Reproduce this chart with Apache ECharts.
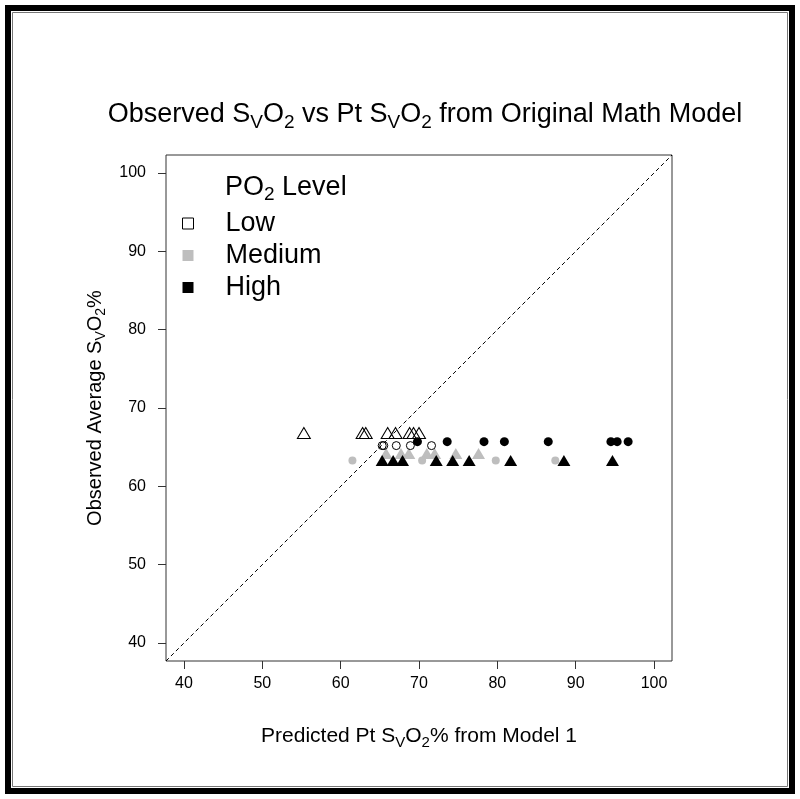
<!DOCTYPE html>
<html><head><meta charset="utf-8">
<script src="https://cdn.jsdelivr.net/npm/echarts@6/dist/echarts.min.js"></script>
<style>html,body{margin:0;padding:0;background:#fff}#c{width:800px;height:799px}</style>
</head><body><div id="c"></div>
<script>
// ---- data ----
const xTicks = [40, 50, 60, 70, 80, 90, 100];
const yTicks = [40, 50, 60, 70, 80, 90, 100];
const axisMin = 37.7, axisMax = 102.3;

const lowTriX  = [55.3, 62.8, 63.2, 66.0, 67.0, 68.8, 69.3, 70.0];
const lowTriY  = [66.8, 66.8, 66.8, 66.8, 66.8, 66.8, 66.8, 66.8];
const lowCircX = [65.3, 65.5, 67.1, 68.9, 71.6];
const lowCircY = [65.2, 65.2, 65.2, 65.2, 65.2];
const medTriX  = [65.8, 67.7, 68.7, 71.0, 72.0, 74.7, 77.6];
const medTriY  = [64.2, 64.2, 64.2, 64.2, 64.2, 64.2, 64.2];
const medCircX = [61.5, 70.4, 79.8, 87.4];
const medCircY = [63.3, 63.3, 63.3, 63.3];
const highCircX = [69.8, 73.6, 78.3, 80.9, 86.5, 94.5, 95.3, 96.7];
const highCircY = [65.7, 65.7, 65.7, 65.7, 65.7, 65.7, 65.7, 65.7];
const highTriX = [65.3, 66.7, 67.9, 72.2, 74.3, 76.4, 81.7, 88.5, 94.7];
const highTriY = [63.3, 63.3, 63.3, 63.3, 63.3, 63.3, 63.3, 63.3, 63.3];

const legendNames = ['Low', 'Medium', 'High'];
const GRAY = '#bebebe';

function pts(xs, ys) { return xs.map((x, i) => [x, ys[i]]); }

const FONT = 'Liberation Sans, Arial, sans-serif';
const chart = echarts.init(document.getElementById('c'), null, {renderer: 'canvas'});

const option = {
  backgroundColor: '#fff',
  animation: false,
  textStyle: {fontFamily: FONT},
  title: {
    left: 420, top: 93, textAlign: 'center',
    text: '{n|Observed S}{s|V}{n|O}{s|2}{n| vs Pt S}{s|V}{n|O}{s|2}{n| from Original Math Model}',
    textStyle: {
      fontWeight: 'normal',
      rich: {
        n: {fontSize: 27, color: '#000', fontFamily: FONT, fontWeight: 'normal'},
        s: {fontSize: 19, color: '#000', fontFamily: FONT, fontWeight: 'normal', padding: [15, 0, 0, 0]}
      }
    }
  },
  graphic: [
    {type: 'rect', shape: {x: 8, y: 8, width: 784, height: 783}, style: {fill: 'none', stroke: '#000', lineWidth: 6}, silent: true},
    {type: 'rect', shape: {x: 12.5, y: 12.5, width: 775, height: 774}, style: {fill: 'none', stroke: '#777', lineWidth: 1}, silent: true},
    {type: 'text', left: 225, top: 174, silent: true,
      style: {
        text: '{n|PO}{s|2}{n| Level}',
        rich: {
          n: {fontSize: 27, fill: '#000', fontFamily: FONT},
          s: {fontSize: 19, fill: '#000', fontFamily: FONT, padding: [15, 0, 0, 0]}
        }
      }
    }
  ],
  legend: {
    orient: 'vertical', left: 182, top: 210, padding: 0,
    itemWidth: 11, itemHeight: 11, itemGap: 5, selectedMode: false,
    textStyle: {fontSize: 27, color: '#000', lineHeight: 27, padding: [0, 0, 0, 27], fontFamily: FONT},
    data: [
      {name: legendNames[0], icon: 'rect', itemStyle: {color: '#fff', borderColor: '#000', borderWidth: 1, opacity: 1}},
      {name: legendNames[1], icon: 'rect', itemStyle: {color: GRAY, borderWidth: 0, opacity: 1}},
      {name: legendNames[2], icon: 'rect', itemStyle: {color: '#000', borderWidth: 0, opacity: 1}}
    ]
  },
  grid: {left: 166, right: 128, top: 155, bottom: 138, show: true, borderColor: '#333', borderWidth: 1, containLabel: false, outerBoundsMode: 'none'},
  xAxis: {
    type: 'value', min: axisMin, max: axisMax,
    axisLine: {show: false},
    splitLine: {show: false},
    axisTick: {show: true, length: 8, customValues: xTicks, lineStyle: {color: '#333'}},
    axisLabel: {customValues: xTicks, fontSize: 16, color: '#000', margin: 15, fontFamily: FONT},
    name: '{n|Predicted Pt S}{s|V}{n|O}{s|2}{n|% from Model 1}',
    nameLocation: 'middle', nameGap: 62,
    nameTextStyle: {rich: {
      n: {fontSize: 21, color: '#000', fontFamily: FONT},
      s: {fontSize: 15, color: '#000', fontFamily: FONT, padding: [12, 0, 0, 0]}
    }}
  },
  yAxis: {
    type: 'value', min: axisMin, max: axisMax,
    axisLine: {show: false},
    splitLine: {show: false},
    axisTick: {show: true, length: 8, customValues: yTicks, lineStyle: {color: '#333'}},
    axisLabel: {customValues: yTicks, fontSize: 16, color: '#000', margin: 20, fontFamily: FONT},
    name: '{n|Observed Average S}{s|V}{n|O}{s|2}{n|%}',
    nameLocation: 'middle', nameGap: 56, nameRotate: 90,
    nameTextStyle: {rich: {
      n: {fontSize: 20, color: '#000', fontFamily: FONT},
      s: {fontSize: 14, color: '#000', fontFamily: FONT, padding: [12, 0, 0, 0]}
    }}
  },
  series: [
    {type: 'line', silent: true, symbol: 'none', data: [[axisMin, axisMin], [axisMax, axisMax]],
      lineStyle: {color: '#000', width: 1, type: [4, 3]}, z: 1},
    {name: 'Low', type: 'scatter', symbol: 'triangle', symbolSize: [13, 11], data: pts(lowTriX, lowTriY),
      itemStyle: {color: 'rgba(0,0,0,0)', borderColor: '#000', borderWidth: 1, opacity: 1}, z: 3},
    {name: 'Low', type: 'scatter', symbol: 'circle', symbolSize: 8, data: pts(lowCircX, lowCircY),
      itemStyle: {color: 'rgba(0,0,0,0)', borderColor: '#000', borderWidth: 1, opacity: 1}, z: 3},
    {name: 'Medium', type: 'scatter', symbol: 'triangle', symbolSize: [13, 11], data: pts(medTriX, medTriY),
      itemStyle: {color: GRAY, borderWidth: 0, opacity: 1}, z: 2},
    {name: 'Medium', type: 'scatter', symbol: 'circle', symbolSize: 8, data: pts(medCircX, medCircY),
      itemStyle: {color: GRAY, borderWidth: 0, opacity: 1}, z: 2},
    {name: 'High', type: 'scatter', symbol: 'circle', symbolSize: 9, data: pts(highCircX, highCircY),
      itemStyle: {color: '#000', borderWidth: 0, opacity: 1}, z: 4},
    {name: 'High', type: 'scatter', symbol: 'triangle', symbolSize: [13, 11], data: pts(highTriX, highTriY),
      itemStyle: {color: '#000', borderWidth: 0, opacity: 1}, z: 4}
  ]
};
chart.setOption(option);
</script></body></html>
